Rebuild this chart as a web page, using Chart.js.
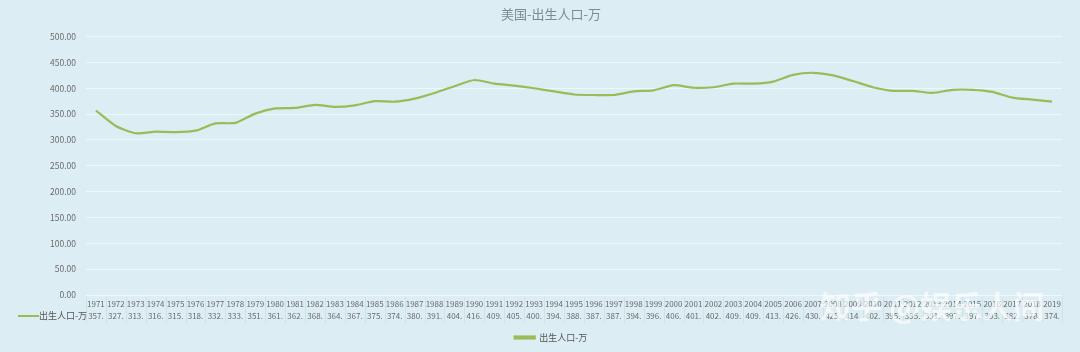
<!DOCTYPE html>
<html>
<head>
<meta charset="utf-8">
<script src="https://cdn.jsdelivr.net/npm/chart.js@4"></script>
<style>
  html, body { margin: 0; padding: 0; background: #dcedf3; }
  #wrap { width: 1080px; height: 352px; }
</style>
</head>
<body>
<div id="wrap"><canvas id="chart" width="1080" height="352"></canvas></div>
<script>
const years = ["1971","1972","1973","1974","1975","1976","1977","1978","1979","1980",
  "1981","1982","1983","1984","1985","1986","1987","1988","1989","1990",
  "1991","1992","1993","1994","1995","1996","1997","1998","1999","2000",
  "2001","2002","2003","2004","2005","2006","2007","2008","2009","2010",
  "2011","2012","2013","2014","2015","2016","2017","2018","2019"];
const births = [357,327,313,316,315,318,332,333,351,361,
  362,368,364,367,375,374,380,391,404,416,
  409,405,400,394,388,387,387,394,396,406,
  401,402,409,409,413,426,430,425,414,402,
  395,395,391,397,397,393,382,378,374];
const seriesName = "出生人口-万";
const font = "'Noto Sans CJK SC', 'Noto Sans', sans-serif";

// excel-style data table under the axis + watermark
const dataTable = {
  id: "dataTable",
  afterDraw(chart) {
    const ctx = chart.ctx;
    const x = chart.scales.x;
    const rowY = x.top + 21;
    ctx.save();
    ctx.strokeStyle = "rgba(195,212,218,0.45)";
    ctx.lineWidth = 1;
    const step = x.getPixelForValue(1) - x.getPixelForValue(0);
    for (let i = 0; i <= years.length; i++) {
      const px = Math.round(x.getPixelForValue(i) - step / 2) + 0.5;
      ctx.beginPath();
      ctx.moveTo(px, x.top + 2);
      ctx.lineTo(px, x.top + 28);
      ctx.stroke();
    }
    ctx.font = "8px " + font;
    ctx.fillStyle = "#6b6b6b";
    ctx.textAlign = "center";
    ctx.textBaseline = "middle";
    births.forEach((v, i) => {
      ctx.fillText(v + ".", x.getPixelForValue(i), rowY);
    });
    // row header
    ctx.strokeStyle = "#9bbb59";
    ctx.lineWidth = 2;
    ctx.beginPath();
    ctx.moveTo(18, rowY);
    ctx.lineTo(39, rowY);
    ctx.stroke();
    ctx.font = "9px " + font;
    ctx.fillStyle = "#555";
    ctx.textAlign = "left";
    ctx.fillText(seriesName, 39, rowY);
    // watermark
    ctx.font = "bold 31px " + font;
    ctx.fillStyle = "rgba(255,255,255,0.65)";
    ctx.textBaseline = "alphabetic";
    ctx.fillText("知乎 @娱乐人间", 820, 318);
    ctx.restore();
  }
};

new Chart(document.getElementById("chart"), {
  type: "line",
  data: {
    labels: years,
    datasets: [{
      label: seriesName,
      data: births,
      borderColor: "#9bbb59",
      backgroundColor: "#9bbb59",
      borderWidth: 2.2,
      pointRadius: 0,
      tension: 0.2,
    }],
  },
  options: {
    responsive: false,
    animation: false,
    layout: { padding: { left: 40, right: 18, top: 0, bottom: 0 } },
    plugins: {
      title: {
        display: true,
        text: "美国-出生人口-万",
        color: "#7f8a8f",
        font: { family: font, size: 13, weight: "normal" },
        padding: { top: 6, bottom: 15 },
      },
      legend: {
        position: "bottom",
        labels: {
          color: "#555",
          font: { family: font, size: 9 },
          boxWidth: 20,
          boxHeight: 2,
          padding: 6,
        },
      },
      tooltip: { enabled: false },
    },
    scales: {
      x: {
        offset: true,
        grid: { display: false, drawTicks: false },
        border: { display: false },
        ticks: {
          color: "#6b6b6b",
          font: { family: font, size: 8 },
          maxRotation: 0,
          autoSkip: false,
          padding: 4,
        },
        afterFit(scale) { scale.height = 32; },
      },
      y: {
        min: 0,
        max: 500,
        grid: { color: "rgba(255,255,255,0.55)", drawTicks: false },
        border: { display: false },
        ticks: {
          stepSize: 50,
          color: "#6b6b6b",
          font: { family: font, size: 8.5 },
          padding: 10,
          callback: (v) => v.toFixed(2),
        },
      },
    },
  },
  plugins: [dataTable],
});
</script>
</body>
</html>
